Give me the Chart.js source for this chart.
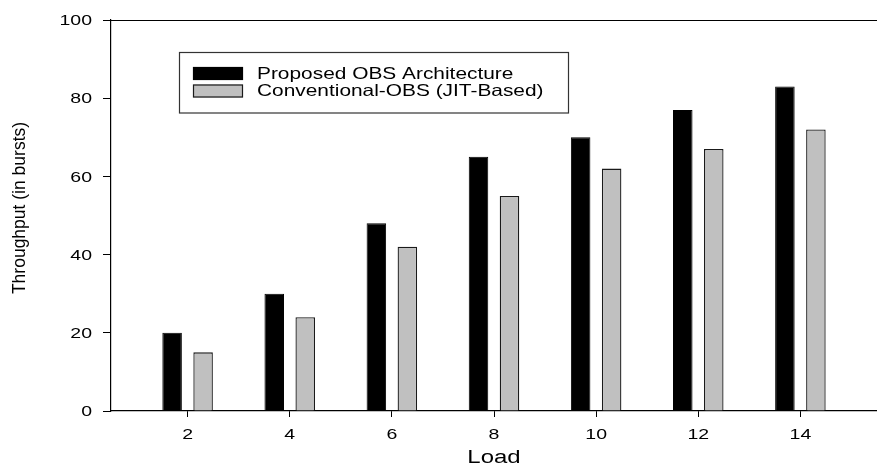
<!DOCTYPE html>
<html>
<head>
<meta charset="utf-8">
<script src="https://cdn.jsdelivr.net/npm/chart.js@4"></script>
<style>
html,body{margin:0;padding:0;background:#fff;}
#wrap{width:877px;height:474px;position:relative;}
</style>
</head>
<body>
<div id="wrap"><canvas id="c"></canvas></div>
<script>
const loads = [2, 4, 6, 8, 10, 12, 14];
const proposed = [20, 30, 48, 65, 70, 77, 83];
const conventional = [15, 24, 42, 55, 62, 67, 72];
const seriesNames = ['Proposed OBS Architecture', 'Conventional-OBS (JIT-Based)'];
const xTicks = [2, 4, 6, 8, 10, 12, 14];
const yTicks = [0, 20, 40, 60, 80, 100];
const xTitle = 'Load';
const yTitle = 'Throughput (in bursts)';

const FONT = '"Liberation Sans", Arial, sans-serif';

function stretchText(ctx, text, x, y, align, size, sx) {
  ctx.save();
  ctx.font = size + 'px ' + FONT;
  ctx.fillStyle = '#000';
  ctx.textBaseline = 'middle';
  ctx.textAlign = align;
  ctx.translate(x, y);
  ctx.scale(sx, 1);
  ctx.fillText(text, 0, 0);
  ctx.restore();
}

const decor = {
  id: 'decor',
  afterDraw(chart) {
    const ctx = chart.ctx;
    const xs = chart.scales.x, ys = chart.scales.y;
    const a = chart.chartArea;
    // top border line
    ctx.save();
    ctx.strokeStyle = '#000';
    ctx.lineWidth = 1.2;
    ctx.beginPath();
    ctx.moveTo(a.left, a.top + 0.5);
    ctx.lineTo(a.right, a.top + 0.5);
    ctx.stroke();
    ctx.restore();
    // y tick labels
    yTicks.forEach(v => {
      stretchText(ctx, String(v), 92, ys.getPixelForValue(v) + 1, 'right', 15, 1.3);
    });
    // x tick labels
    xTicks.forEach(v => {
      stretchText(ctx, String(v), xs.getPixelForValue(v), 435, 'center', 15, 1.3);
    });
    // axis titles
    stretchText(ctx, xTitle, (a.left + a.right) / 2, 458, 'center', 18, 1.33);
    ctx.save();
    ctx.font = '17.5px ' + FONT;
    ctx.fillStyle = '#000';
    ctx.textAlign = 'center';
    ctx.textBaseline = 'middle';
    ctx.translate(20, 208);
    ctx.rotate(-Math.PI / 2);
    ctx.fillText(yTitle, 0, 0);
    ctx.restore();
    // legend
    const ds = chart.data.datasets;
    ctx.save();
    ctx.strokeStyle = '#333';
    ctx.lineWidth = 1.2;
    ctx.strokeRect(179.5, 52.5, 389, 60.5);
    ds.forEach((d, i) => {
      const y0 = i === 0 ? 67 : 84.5;
      ctx.fillStyle = d.backgroundColor;
      ctx.fillRect(193, y0, 50, 13);
      ctx.strokeStyle = d.borderColor;
      ctx.lineWidth = 1.2;
      ctx.strokeRect(193.5, y0 + 0.5, 49, 12);
      stretchText(ctx, d.label, 257, y0 + 7, 'left', 16.5, 1.265);
    });
    ctx.restore();
  }
};

new Chart(document.getElementById('c'), {
  type: 'bar',
  data: {
    datasets: [
      {
        label: seriesNames[0],
        data: loads.map((x, i) => ({ x: x, y: proposed[i] })),
        backgroundColor: '#000000',
        borderColor: '#000000',
        borderWidth: 1,
        categoryPercentage: 0.607,
        barPercentage: 0.63
      },
      {
        label: seriesNames[1],
        data: loads.map((x, i) => ({ x: x, y: conventional[i] })),
        backgroundColor: '#c0c0c0',
        borderColor: '#1a1a1a',
        borderWidth: 1.3,
        categoryPercentage: 0.607,
        barPercentage: 0.63
      }
    ]
  },
  options: {
    responsive: true,
    maintainAspectRatio: false,
    animation: false,
    layout: { padding: { left: 0, right: 0, top: 20, bottom: 0 } },
    plugins: { legend: { display: false }, tooltip: { enabled: false } },
    scales: {
      x: {
        type: 'linear',
        min: 0.5,
        max: 15.5,
        offset: false,
        afterBuildTicks(s) { s.ticks = xTicks.map(v => ({ value: v })); },
        afterFit(s) { s.height = 63; },
        ticks: { display: false },
        grid: { offset: false, drawOnChartArea: false, drawTicks: true, tickLength: 6, color: '#000', lineWidth: 1 },
        border: { display: true, color: '#000', width: 1.2 }
      },
      y: {
        min: 0,
        max: 100,
        afterBuildTicks(s) { s.ticks = yTicks.map(v => ({ value: v })); },
        afterFit(s) { s.width = 111; },
        ticks: { display: false },
        grid: { offset: false, drawOnChartArea: false, drawTicks: true, tickLength: 8, color: '#000', lineWidth: 1 },
        border: { display: true, color: '#000', width: 1.2 }
      }
    }
  },
  plugins: [decor]
});
</script>
</body>
</html>
